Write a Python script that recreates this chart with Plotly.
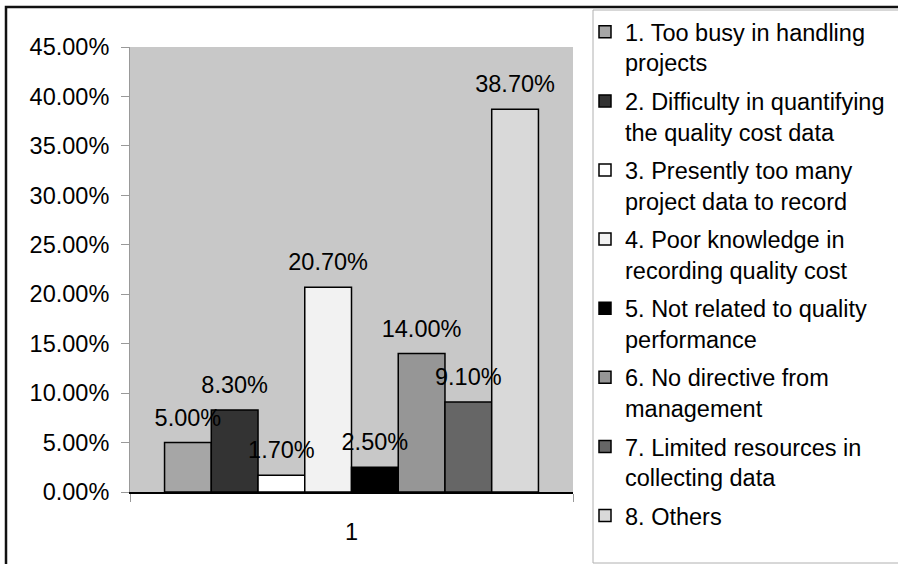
import plotly.graph_objects as go

categories = ["1"]
series_names = [
    "1. Too busy in handling<br>projects",
    "2. Difficulty in quantifying<br>the quality cost data",
    "3. Presently too many<br>project data to record",
    "4. Poor knowledge in<br>recording quality cost",
    "5. Not related to quality<br>performance",
    "6. No directive from<br>management",
    "7. Limited resources in<br>collecting data",
    "8. Others",
]
series_values = [0.050, 0.083, 0.017, 0.207, 0.025, 0.140, 0.091, 0.387]
series_colors = ["#a6a6a6", "#333333", "#ffffff", "#f2f2f2",
                 "#000000", "#969696", "#666666", "#d9d9d9"]
y_ticks = [0.0, 0.05, 0.10, 0.15, 0.20, 0.25, 0.30, 0.35, 0.40, 0.45]

FONT = "Liberation Sans, Arial, sans-serif"
FS = 23.5

fig = go.Figure()
for i, (name, val, col) in enumerate(zip(series_names, series_values, series_colors)):
    fig.add_trace(go.Bar(
        x=categories, y=[val], name=name,
        legendgroup=f"g{i}",
        marker=dict(color=col, line=dict(color="#000000", width=1.5)),
        hovertemplate="%{y:.2%}<extra></extra>",
    ))

# value labels: invisible markers grouped the same way as the bars,
# so each label sits above its own bar
for i, (val, col) in enumerate(zip(series_values, series_colors)):
    fig.add_trace(go.Scatter(
        x=categories, y=[val], mode="markers+text",
        marker=dict(size=16, opacity=0),
        texttemplate="%{y:.2%}", textposition="top center",
        textfont=dict(family=FONT, size=FS, color="#000000"),
        showlegend=False, hoverinfo="skip", cliponaxis=False,
    ))

# plot-area geometry in paper units
L, R, T, B = 130, 325, 47, 72
PW, PH = 898 - L - R, 564 - T - B

def px_x(px):
    return (px - L) / PW

def px_y(py):
    return (564 - B - py) / PH

fig.update_layout(
    width=898, height=564,
    margin=dict(l=L, r=R, t=T, b=B, autoexpand=False),
    paper_bgcolor="#ffffff",
    plot_bgcolor="#c8c8c8",
    barmode="group",
    bargap=0.156,
    bargroupgap=0,
    scattermode="group",
    scattergap=0.156,
    font=dict(family=FONT, size=FS, color="#000000"),
    showlegend=True,
    legend=dict(
        x=px_x(585), y=px_y(10), xanchor="left", yanchor="top",
        bgcolor="rgba(0,0,0,0)", borderwidth=0,
        font=dict(family=FONT, size=FS, color="#000000"),
        tracegroupgap=5,
        traceorder="grouped",
        valign="top",
        maxheight=560,
    ),
    xaxis=dict(
        type="category", showgrid=False,
        showline=True, linecolor="#000000", linewidth=1.5,
        ticks="outside", ticklen=8, tickcolor="#999999",
        tickson="boundaries", ticklabelstandoff=18,
        tickfont=dict(family=FONT, size=FS),
    ),
    yaxis=dict(
        range=[0, 0.45], tickvals=y_ticks, tickformat=".2%",
        showgrid=False, zeroline=False,
        showline=True, linecolor="#999999", linewidth=1,
        ticks="outside", ticklen=8, tickcolor="#999999",
        ticklabelstandoff=7,
        tickfont=dict(family=FONT, size=FS),
    ),
    shapes=[
        # legend frame
        dict(type="rect", xref="paper", yref="paper", layer="below",
             x0=px_x(593), x1=px_x(905), y0=px_y(563), y1=px_y(10),
             line=dict(color="#b0b0b0", width=1), fillcolor="#ffffff"),
        # outer chart frame
        dict(type="rect", xref="paper", yref="paper", layer="above",
             x0=px_x(6), x1=px_x(910), y0=px_y(580), y1=px_y(7),
             line=dict(color="#111111", width=2.5), fillcolor="rgba(0,0,0,0)"),
    ],
)

fig.write_html("out.html")
